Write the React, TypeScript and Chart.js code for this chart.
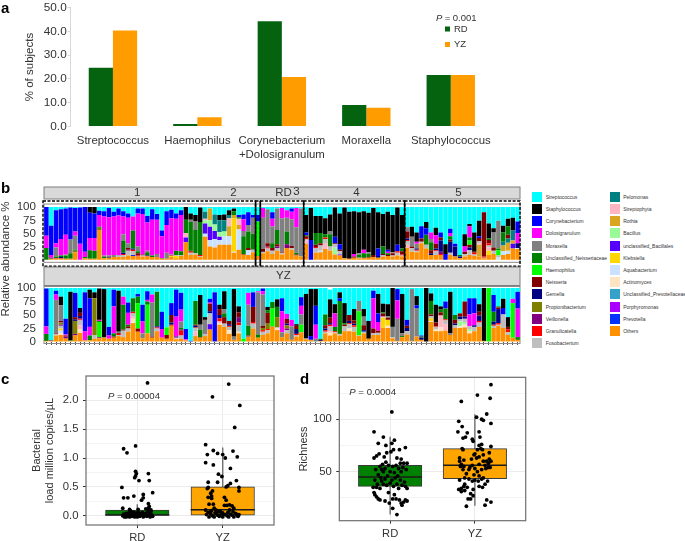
import React, { useEffect, useRef } from "react";
import { Chart, registerables } from "chart.js";
Chart.register(...registerables);

// ---------- panel a ----------
const aCategories = ["Streptococcus", "Haemophilus", ["Corynebacterium", "+Dolosigranulum"], "Moraxella", "Staphylococcus"];
const aRD = [24.7, 1.1, 44.3, 9.0, 21.7];
const aYZ = [40.4, 3.9, 20.8, 7.9, 21.7];
const aTicks = [0, 10, 20, 30, 40, 50];

// ---------- panel b ----------
const genera = ["Streptococcus","Staphylococcus","Corynebacterium","Dolosigranulum","Moraxella","Unclassified_Neisseriaceae","Haemophilus","Neisseria","Gemella","Propionibacterium","Veillonella","Granulicatella","Fusobacterium","Pelomonas","Streptophyta","Rothia","Bacillus","unclassified_Bacillales","Klebsiella","Aquabacterium","Actinomyces","Unclassified_Prevotellaceae","Porphyromonas","Prevotella","Others"];
const generaKeys = ["c","k","b","m","g","n","h","r","v","o","p","e","s","t","i","u","l","d","y","a","f","j","q","w","x"];
const generaColors = ["#00FFFF","#000000","#0000FF","#FF00FF","#808080","#008000","#00FF00","#800000","#000080","#808000","#800080","#FF0000","#BEBEBE","#008080","#FFB6C1","#DAA520","#98FB98","#5500FF","#FFD700","#CAE1FF","#FFE4C4","#36A2C9","#AA00FF","#0033FF","#FF9000"];

type Row = Record<string, number>;
const rdRows: Row[] = [
{b:54,m:23,n:23},{c:35,b:55,m:5,r:1,v:1,x:3},{c:6,b:62,g:17,m:8,n:3,e:1,x:3},{c:4,b:56,m:31,v:2,e:1,n:3,x:3},{c:3,b:49,m:37,n:6,g:2,x:3},
{c:1,b:60,g:26,n:10,x:3},{c:2,b:44,m:8,o:3,g:26,n:2,x:15},{c:1,b:68,m:31},{b:84,m:10,n:2,x:4},{k:11,b:47,m:23,n:16,x:3},
{k:12,b:46,m:24,n:15,x:3},{c:7,b:8,o:4,n:2,m:22,x:57},{c:8,b:10,m:73,g:3,n:2,x:4},{c:2,b:17,m:72,g:3,v:1,x:5},{c:9,b:9,m:72,g:4,x:6},
{c:3,b:13,m:74,p:1,s:3,x:6},{c:8,b:10,m:33,n:23,g:12,s:4,e:2,v:2,x:6},{c:12,b:8,m:48,g:9,s:9,r:3,p:2,x:9},{c:18,m:26,n:34,s:7,v:2,e:3,w:2,x:8},{c:3,b:9,m:62,n:4,g:9,r:4,e:2,x:7},
{c:3,b:10,m:76,s:2,r:2,x:7},{c:17,b:12,m:53,n:6,g:3,v:1,e:1,x:7},{c:4,b:20,m:66,n:2,g:2,x:6},{c:13,b:11,m:64,g:6,x:6},{c:44,b:11,m:41,n:1,x:3},
{c:8,b:26,m:52,g:11,x:3},{c:6,b:16,m:68,g:2,y:2,e:1,x:6},{c:12,b:10,m:60,n:8,y:4,s:2,x:4},{c:6,b:9,m:68,n:7,s:2,x:8},{k:24,n:25,i:8,d:9,x:34},
{c:12,k:12,g:4,n:54,r:2,s:4,e:2,x:10},{c:15,k:12,g:16,n:44,s:2,x:11},{c:1,k:27,n:62,e:2,s:2,x:6},{c:9,t:13,i:3,l:6,d:19,a:6,x:44},{c:3,u:22,l:12,d:25,a:12,x:26},
{c:14,t:19,l:12,d:15,a:16,x:24},{c:15,k:10,t:22,l:9,d:6,a:9,x:29},{c:14,k:11,t:21,l:9,a:16,x:29},{c:6,k:9,u:19,t:6,i:15,a:16,x:29},{c:3,n:7,u:6,k:5,y:63,a:2,x:14},
{c:15,u:8,b:4,i:12,a:38,n:3,x:20},{c:14,b:9,m:22,g:10,n:34,e:1,x:10},{c:10,b:24,n:31,g:12,r:4,a:9,x:10},{c:15,g:30,n:30,b:5,s:5,x:15},{c:15,b:12,h:65,x:8},
{c:2,m:18,g:59,r:5,v:1,s:2,x:13},{c:4,g:64,r:6,e:2,s:5,p:2,x:17},{c:10,b:12,m:14,g:32,r:5,s:6,n:9,x:12},{c:3,g:40,n:27,r:4,s:5,p:3,x:18},{c:2,m:19,g:63,r:2,s:3,x:11},
{c:6,m:14,g:26,n:24,p:7,x:23},{c:3,b:6,m:14,g:50,r:4,s:3,x:20},{c:2,m:36,g:48,n:3,r:2,x:9},{c:3,g:90,x:7},{c:15,k:33,b:5,n:2,r:3,i:6,s:3,e:2,x:31},
{c:2,k:60,b:37,x:1},{c:17,k:32,n:22,s:9,r:4,e:2,x:14},{c:17,k:32,n:19,s:10,r:4,a:3,x:15},{c:21,k:30,n:6,i:10,e:3,s:9,x:21},{c:14,k:32,n:23,g:5,s:8,x:18},
{c:1,k:55,b:12,r:2,l:13,s:6,x:11},{c:12,k:58,b:10,d:2,r:3,s:6,x:9},{c:1,k:95,x:4},{c:9,k:88,x:3},{c:8,k:80,m:5,r:2,x:5},
{c:10,k:77,n:6,i:1,g:2,x:4},{c:14,k:72,m:7,n:8,r:1,x:4},{c:11,k:74,n:6,g:3,r:1,x:5},{c:2,k:88,r:4,x:6},{c:10,k:68,b:14,v:3,x:5},
{c:13,k:61,n:14,s:3,r:2,x:7},{c:9,k:71,b:4,n:3,m:3,r:2,x:8},{c:15,k:70,r:4,s:2,g:2,x:7},{c:1,k:70,b:12,s:5,e:3,x:9},{c:15,k:63,n:5,r:6,e:2,s:2,x:7},
{c:38,r:13,v:3,s:7,g:8,i:6,e:2,x:23},{c:37,k:19,g:18,s:7,r:3,x:16},{c:48,k:17,m:4,g:9,s:3,v:2,e:2,x:15},{c:39,b:23,r:6,s:3,x:32},{c:28,b:12,k:12,n:19,s:7,x:22},
{c:48,m:12,n:15,r:6,g:6,v:3,x:10},{c:39,k:14,m:16,r:9,s:7,v:3,e:2,x:10},{c:48,b:9,v:21,r:6,e:2,p:4,x:10},{c:70,b:12,k:18},{c:41,b:8,m:6,v:21,r:4,n:6,s:4,x:10},
{c:70,b:5,v:19,x:7},{c:90,n:3,v:3,x:4},{c:51,m:11,k:22,r:4,s:5,x:7},{c:32,m:21,k:4,r:5,s:9,h:8,v:5,n:6,x:10},{c:48,k:36,s:3,r:2,e:3,x:8},
{c:26,k:29,s:4,r:6,b:3,u:22,i:3,x:7},{c:10,r:83,e:2,s:1,x:4},{c:31,k:28,r:6,e:4,y:8,s:4,i:6,n:3,x:10},{c:40,k:8,g:28,r:6,s:6,x:12},{c:26,g:52,s:3,n:3,a:6,h:10},
{c:37,k:13,n:17,t:7,u:11,a:7,x:10},{c:22,k:14,n:16,t:8,r:7,u:15,a:6,x:12},{c:20,k:24,t:19,d:9,u:6,x:22},{c:28,b:22,m:19,v:9,a:2,x:21}
];
const yzRows: Row[] = [
{c:2,b:70,m:14,n:13,x:2},{c:97,r:1,x:2},{c:6,b:7,m:10,g:62,r:1,s:2,e:1,x:12},{c:16,k:16,s:5,g:29,r:3,p:2,o:4,y:4,a:5,f:3,x:13},{c:57,b:29,r:2,p:3,e:1,m:2,x:6},
{c:7,k:90,n:1,x:2},{c:9,b:45,v:3,r:4,o:24,e:1,p:2,x:12},{c:37,k:9,r:6,s:9,i:7,v:4,e:2,p:2,f:7,x:17},{c:8,b:72,m:17,x:3},{c:3,k:16,b:53,m:16,n:9,x:3},
{c:8,k:11,s:7,o:68,x:6},{c:1,k:58,p:1,m:2,h:28,n:2,r:1,x:7},{c:2,k:89,n:1,x:8},{c:72,b:16,m:6,x:6},{c:3,b:31,m:50,n:6,r:2,x:8},
{c:5,k:76,g:2,r:2,s:2,e:2,x:11},{c:16,m:15,n:46,s:12,r:2,x:9},{c:27,b:19,m:22,r:4,s:6,n:3,x:19},{c:19,n:25,s:6,e:3,f:8,i:4,x:35},{c:11,b:5,h:47,n:12,r:6,x:19},
{c:31,b:31,m:22,g:9,x:7},{c:6,b:16,m:3,h:53,n:6,x:16},{c:12,m:15,g:63,r:2,x:8},{c:7,n:64,v:2,s:5,e:2,x:20},{c:44,b:32,m:16,x:8},
{c:73,h:14,r:7,x:6},{c:28,b:22,v:4,r:14,e:2,x:30},{c:3,b:50,m:37,i:3,v:2,x:5},{c:9,b:31,n:3,m:22,r:2,e:9,s:6,x:6,g:12},{c:76,b:19,m:2,x:3},
{c:98,b:1,x:1},{c:24,n:44,s:6,r:2,e:1,i:9,v:3,x:11},{c:13,k:55,n:14,g:9,r:1,x:8},{c:54,k:5,g:25,p:1,s:4,x:11},{c:20,b:7,r:14,m:2,v:4,s:20,d:10,x:23},
{c:8,b:91,x:1},{c:31,k:8,r:11,v:6,e:6,i:4,f:2,x:32},{c:6,k:33,n:7,r:12,g:8,s:6,x:28},{c:61,r:6,v:3,s:6,e:2,f:7,x:15},{c:2,k:88,g:6,x:4},
{c:34,k:11,r:9,e:5,p:10,s:12,f:3,x:16},{c:94,h:6},{c:9,m:22,g:39,n:18,v:1,r:1,x:10},{c:8,b:27,r:28,s:9,e:3,x:25},{c:6,g:78,n:6,m:2,x:8},
{c:1,b:5,m:6,g:58,r:4,s:6,o:4,e:3,x:13},{c:35,k:6,r:20,n:5,o:10,s:6,e:2,x:16},{c:26,n:12,h:33,o:1,x:28},{c:21,k:14,n:19,o:19,f:3,s:2,x:22},{c:19,b:24,m:39,g:9,x:9},
{c:48,r:9,v:3,o:6,m:9,s:6,p:3,x:16},{c:59,m:12,g:25,x:4},{c:67,k:3,v:9,r:6,s:3,e:2,x:10},{c:17,b:16,m:16,g:19,h:14,x:18},{c:11,k:82,g:2,x:5},
{c:2,k:87,b:7,x:4},{c:2,k:31,b:35,m:26,g:6},{c:94,n:2,v:2,x:2},{c:49,n:20,r:6,e:3,s:3,v:3,x:16},{c:18,k:34,r:10,s:9,e:3,v:3,f:5,i:3,x:12},
{c:30,k:17,m:25,n:8,s:2,e:2,x:16},{c:8,k:11,b:5,n:61,s:3,x:12},{c:28,k:37,n:3,s:9,r:3,x:20},{c:50,r:11,v:4,s:8,f:5,e:2,x:20},{c:39,k:21,r:6,s:9,e:3,v:3,x:19},
{c:24,h:45,g:19,s:1,x:11},{c:39,k:14,r:9,v:3,g:16,s:3,x:16},{c:61,k:33,x:6},{c:5,b:14,m:56,r:9,s:3,x:13},{c:11,k:36,b:16,m:16,r:4,s:4,x:13},
{c:34,k:16,n:2,r:6,y:19,i:2,x:26},{c:31,k:22,g:3,y:11,r:4,f:4,x:26},{c:2,k:74,g:19,s:2,x:7},{c:2,b:21,m:34,g:41,x:2},{c:11,k:73,n:2,g:5,x:9},
{c:59,v:6,r:4,s:6,b:11,x:14},{c:2,g:96,x:2},{c:15,k:17,g:53,b:5,x:10},{c:88,v:4,n:2,b:2,x:4},{k:100},
{c:11,k:14,n:25,r:3,f:2,s:4,y:5,x:37},{c:31,k:33,r:7,s:5,f:3,e:1,x:20},{c:34,k:6,n:5,r:6,i:22,f:7,x:20},{c:25,b:13,n:20,s:7,i:12,e:2,x:21},{c:7,k:77,g:3,x:13},
{c:50,n:9,r:7,v:3,s:5,x:26},{c:47,r:6,v:5,s:4,l:9,f:3,x:26},{c:25,r:28,v:4,s:6,l:5,f:5,x:27},{c:19,b:30,m:22,s:6,l:3,f:4,x:16},{c:19,b:28,m:22,s:8,v:3,x:20},
{c:30,k:14,r:7,v:10,s:8,e:3,x:28},{k:98,x:2},{h:100},{c:13,b:31,n:18,e:2,v:6,s:4,x:26},{c:34,v:26,r:3,n:2,s:2,e:3,x:30},
{c:20,k:17,b:12,s:25,x:26},{c:54,k:18,r:5,s:5,e:5,x:13},{c:20,h:64,m:8,x:8},{c:7,b:31,m:53,n:5,x:4},
];
const rdBoxBounds = [0, 44, 45, 54, 75, 99];
const stripLabelsRD = [["1", 19.4], ["2", 39.4], ["RD", 49.8], ["3", 52.5], ["4", 65], ["5", 86.2]];
const stripLabelsYZ = [["YZ", 49.8]];
const abundanceTicks = [0, 25, 50, 75, 100];

// ---------- panel c ----------
const cRDPoints = [[1.12,2.3],[.84,1.16],[.88,1.09],[.98,1.21],[.98,.77],[.99,.73],[1.13,.73],[.98,.69],[.97,.66],[1.02,.61],[1.14,.61],[.82,.49],[1.18,.4],[1.07,.37],[.96,.34],[1.07,.31],[.84,.31],[.89,.31],[1.05,.27],[1.13,.21],[1.14,.16],[.83,.13],[.91,.11],[1.01,.11],[1.1,.12],[1.13,.13],[1.16,.08],[.92,.09],[.84,.03],[.85,-.02],[.86,.01],[.87,.04],[.88,-.01],[.89,.02],[.9,.05],[.91,-.02],[.92,.01],[.93,.03],[.94,-.01],[.95,.06],[.96,.02],[.97,-.02],[.98,.04],[.99,.01],[1.0,-.02],[1.01,.03],[1.02,.05],[1.03,-.01],[1.04,.02],[1.05,.01],[1.06,.06],[1.07,-.02],[1.08,.03],[1.09,.01],[1.1,.04],[1.11,-.01],[1.12,.05],[1.13,.02],[1.14,.06],[1.15,-.02],[1.16,.03],[1.17,.01],[1.18,-.01],[.83,.0],[.87,-.02],[.9,.0],[.94,.04],[.97,.0],[1.0,.05],[1.03,.02],[1.07,.01],[1.11,.03],[1.14,.0],[1.16,.1],[1.13,.08],[.96,.06],[.92,.06]];
const cYZPoints = [[2.07,2.28],[1.88,2.06],[2.2,1.91],[2.14,1.53],[1.8,1.23],[1.89,1.13],[1.82,1.06],[1.94,1.08],[2.0,1.06],[2.12,1.12],[2.17,1.02],[2.03,1.0],[1.8,.92],[1.89,.88],[2.09,.82],[1.95,.72],[1.99,.68],[2.16,.61],[1.83,.58],[1.94,.58],[2.09,.56],[2.06,.52],[2.04,.5],[2.19,.49],[2.19,.43],[1.83,.49],[1.82,.47],[1.88,.43],[1.86,.39],[1.87,.34],[1.83,.32],[1.87,.3],[2.02,.32],[2.04,.27],[1.84,.2],[1.89,.2],[2.02,.18],[2.05,.18],[2.08,.19],[2.11,.17],[2.13,.13],[1.8,.1],[1.9,.13],[1.92,.1],[1.86,.07],[1.95,.07],[2.08,.1],[2.0,.05],[1.81,.02],[1.84,-.02],[1.86,.03],[1.88,.0],[1.9,-.02],[1.92,.04],[1.94,.01],[1.96,-.01],[1.98,.03],[2.0,-.02],[2.03,.02],[2.05,.0],[2.07,-.02],[2.09,.03],[2.11,.01],[2.13,-.02],[2.15,.04],[2.17,.0],[2.19,.02],[1.83,.06],[1.87,.09],[1.91,.05],[1.97,.08],[2.01,.02],[2.06,.06],[2.12,.07],[2.16,.03],[2.18,-.01]];
const cBox = [[0, 0.098], [0, 0.5]];
const cMedian = [0.012, 0.105];
const cWhiskers = [[0, 0.2], [0, 1.18]];
const loadTicks = [0, 0.25, 0.5, 0.75, 1, 1.25, 1.5, 1.75, 2, 2.25];
const loadLabelled = [0, 0.5, 1, 1.5, 2];

// ---------- panel d ----------
const dRDPoints = [[1.02,107],[.81,88],[.92,83],[1.05,80],[.86,77],[1.02,77],[.95,75],[1.18,73],[1.11,71],[1.04,71],[.87,67],[.96,68],[1.01,69],[.84,65],[.81,63],[.93,64],[1.08,63],[1.13,62],[1.16,58],[1.2,58],[1.12,58],[.95,59],[.91,57],[.88,55],[.83,52],[.9,52],[.94,53],[.98,56],[1.03,55],[1.07,56],[1.1,53],[1.15,54],[1.19,52],[1.0,50],[.92,50],[1.05,49],[1.13,50],[.86,47],[.97,46],[1.09,46],[.89,44],[.9,41],[.94,43],[1.02,42],[1.06,44],[1.12,42],[1.17,40],[.82,42],[.85,38],[.92,38],[.96,37],[1.0,39],[1.04,36],[1.08,38],[1.14,37],[1.18,36],[1.2,34],[.8,35],[.84,35],[.88,34],[1.1,34],[.98,30],[1.05,28],[.81,30],[.82,28],[.84,26],[.86,24],[.88,23],[.94,22],[.99,20],[1.03,24],[1.07,24],[1.11,23],[1.13,20],[1.16,21],[1.18,23],[1.2,22],[1.14,18],[1.03,15],[1.08,9]];
const dYZPoints = [[2.19,133],[2.03,123],[2.18,120],[1.84,117],[2.14,105],[2.02,102],[2.08,100],[2.1,99],[1.81,98],[1.85,93],[2.19,96],[1.8,88],[2.05,88],[1.91,87],[2.06,83],[1.86,82],[1.89,83],[1.97,81],[1.98,79],[2.05,75],[2.08,76],[2.19,74],[1.85,72],[2.07,72],[2.03,71],[2.09,71],[1.86,71],[2.17,68],[2.0,67],[1.99,66],[2.05,64],[2.1,66],[1.82,63],[1.87,61],[1.96,62],[2.02,63],[2.17,62],[1.82,60],[2.1,60],[2.14,60],[2.19,60],[2.16,58],[1.84,57],[1.83,55],[1.87,55],[1.94,54],[1.97,56],[2.0,53],[2.05,57],[2.12,56],[2.16,54],[1.86,52],[1.93,52],[2.03,50],[2.08,52],[2.13,53],[2.18,54],[1.9,48],[1.99,47],[2.05,46],[1.82,42],[1.88,44],[1.93,43],[1.97,41],[2.0,42],[2.04,41],[2.08,43],[2.1,44],[2.15,41],[1.88,38],[1.84,34],[1.87,36],[1.91,35],[1.98,33],[2.05,36],[2.09,35],[2.12,38],[1.81,33],[1.84,31],[1.88,32],[1.95,29],[1.92,24],[1.95,24],[1.98,27],[1.9,17],[2.12,18],[2.14,23],[2.19,21]];
const dBox = [[36, 56], [43.3, 72]];
const dMedian = [45, 56];
const dWhiskers = [[9, 83.4], [17.5, 104.7]];
const richTicks = [25, 50, 75, 100, 125];
const richLabelled = [50, 100];

const groups = ["RD", "YZ"];
const groupFills = ["#008000", "#FFA500"];
const boxHalfWidth = 0.375;

const FONT = '"Liberation Sans", Arial, sans-serif';
const TEXT = "#333333";

// fix the plot rectangle of a chart inside its canvas
function frame(yW: number, xH: number) {
  return {
    y: (s: any) => { s.width = yW; s.paddingTop = 0; s.paddingBottom = 0; s.paddingLeft = 0; s.paddingRight = 0; },
    x: (s: any) => { s.height = xH; s.paddingLeft = 0; s.paddingRight = 0; s.paddingTop = 0; s.paddingBottom = 0; },
  };
}

function aConfig() {
  const f = frame(30, 45.5);
  return {
    type: "bar",
    data: {
      labels: aCategories,
      datasets: [
        { label: "RD", data: aRD, backgroundColor: "#05630F" },
        { label: "YZ", data: aYZ, backgroundColor: "#FF9D00" },
      ],
    },
    options: {
      responsive: false, animation: false,
      layout: { padding: { left: 40.7, top: 7.7, right: 7, bottom: 0 } },
      plugins: { legend: { display: false }, tooltip: { enabled: false } },
      datasets: { bar: { categoryPercentage: 0.573, barPercentage: 1 } },
      scales: {
        x: {
          afterFit: f.x, grid: { display: false, drawTicks: false }, border: { display: false },
          ticks: { color: TEXT, font: { family: FONT, size: 11.4 }, maxRotation: 0, autoSkip: false, padding: 8 },
        },
        y: {
          min: 0, max: 50, afterFit: f.y,
          afterBuildTicks: (s: any) => { s.ticks = aTicks.map((value) => ({ value })); },
          grid: { drawOnChartArea: false, color: "#D8D8D8", tickLength: 3 },
          border: { color: "#D8D8D8" },
          ticks: { color: TEXT, font: { family: FONT, size: 11.8 }, padding: 1, callback: (v: number) => v.toFixed(1) },
        },
      },
    },
    plugins: [{
      id: "aLegend",
      afterDraw(c: any) {
        const g = c.ctx; g.save();
        g.textBaseline = "middle"; g.fillStyle = TEXT;
        g.font = `italic 9.5px ${FONT}`; g.fillText("P", 436, 18);
        g.font = `9.5px ${FONT}`; g.fillText(" = 0.001", 442, 18);
        [["RD", "#05630F", 29], ["YZ", "#FF9D00", 44.5]].forEach(([t, col, y]: any) => {
          g.fillStyle = col; g.fillRect(445, y - 2.5, 5, 5);
          g.fillStyle = TEXT; g.fillText(t, 454, y);
        });
        g.restore();
      },
    }],
  };
}

function bConfig(rows: Row[], showTicks: boolean, strip: any[], boxes: boolean) {
  const f = frame(26, showTicks ? 8 : 9.7);
  const n = rows.length;
  return {
    type: "bar",
    data: {
      labels: rows.map((_, i) => String(i + 1)),
      // stacked from the bottom up: Others first, Streptococcus last
      datasets: generaKeys.map((k, i) => ({
        label: genera[i],
        data: rows.map((r) => r[k] || 0),
        backgroundColor: generaColors[i],
      })).reverse(),
    },
    options: {
      responsive: false, animation: false,
      layout: { padding: { left: 18, top: boxes ? 27 : 22, right: 5, bottom: 0 } },
      plugins: { legend: { display: false }, tooltip: { enabled: false } },
      datasets: { bar: { categoryPercentage: 1, barPercentage: 0.93 } },
      scales: {
        x: {
          stacked: true, afterFit: f.x, border: { display: false },
          grid: { drawOnChartArea: false, display: showTicks, tickLength: 3, color: "#555", offset: false },
          ticks: { display: false, autoSkip: false },
        },
        y: {
          stacked: true, min: 0, max: 100, afterFit: f.y,
          afterBuildTicks: (s: any) => { s.ticks = abundanceTicks.map((value) => ({ value })); },
          grid: { drawOnChartArea: false, tickLength: 0 }, border: { display: false },
          ticks: { color: TEXT, font: { family: FONT, size: 11.6 }, padding: 8, autoSkip: false },
        },
      },
    },
    plugins: [{
      id: "facet",
      beforeDatasetsDraw(c: any) {
        const { left, right, top, bottom } = c.chartArea;
        const g = c.ctx; g.save();
        const stripTop = top - (boxes ? 20 : 21), stripBottom = top - (boxes ? 8 : 2.5);
        g.fillStyle = "#D9D9D9"; g.fillRect(left, stripTop, right - left, stripBottom - stripTop);
        g.strokeStyle = "#7F7F7F"; g.lineWidth = 1;
        g.strokeRect(left, stripTop, right - left, stripBottom - stripTop);
        g.strokeStyle = "#8A8A8A";
        g.strokeRect(left, top - (boxes ? 3 : 1.5), right - left, bottom - top + (boxes ? 5 : 3));
        g.fillStyle = TEXT; g.font = `11.5px ${FONT}`; g.textAlign = "center"; g.textBaseline = "middle";
        const w = (right - left) / n;
        strip.forEach(([t, pos]) => g.fillText(t, left + pos * w, (stripTop + stripBottom) / 2 + (t === "3" ? -1 : 0)));
        g.restore();
      },
      afterDraw(c: any) {
        if (!boxes) return;
        const { left, right, top, bottom } = c.chartArea;
        const g = c.ctx; g.save();
        const w = (right - left) / n;
        g.strokeStyle = "#000"; g.lineWidth = 1.4; g.setLineDash([3, 1.5]);
        for (let i = 0; i + 1 < rdBoxBounds.length; i++) {
          const x0 = left + rdBoxBounds[i] * w, x1 = left + rdBoxBounds[i + 1] * w;
          g.strokeRect(x0 - (i === 0 ? 1 : 0), top - 6, x1 - x0 + (i === 0 ? 1 : 0), bottom - top + 12);
        }
        g.setLineDash([]); g.lineWidth = 1.4;
        [44, 45, 54, 75].forEach((b) => {
          g.beginPath(); g.moveTo(left + b * w, top - 6); g.lineTo(left + b * w, bottom + 6); g.stroke();
        });
        g.restore();
      },
    }],
  };
}

function boxConfig(opts: any) {
  const { rd, yz, box, median, whiskers, ticks, labelled, fmt, yMin, yMax, title, pText, pX, pY, yW, xH, pad } = opts;
  const f = frame(yW, xH);
  const whiskerSets = whiskers.map((w: number[], i: number) => ({
    type: "line", order: 5, data: [{ x: i + 1, y: w[0] }, { x: i + 1, y: w[1] }],
    borderColor: "#6E6E6E", borderWidth: 1.4, pointRadius: 0,
  }));
  const medianSets = median.map((m: number, i: number) => ({
    type: "line", order: 2,
    data: [{ x: i + 1 - boxHalfWidth, y: m }, { x: i + 1 + boxHalfWidth, y: m }],
    borderColor: "#1A1A1A", borderWidth: 1.5, pointRadius: 0,
  }));
  const toPoints = (list: number[][]) => list.map(([x, y]) => ({ x, y }));
  return {
    type: "bar",
    data: {
      datasets: [
        ...whiskerSets,
        {
          type: "bar", order: 3, barThickness: 63.5,
          data: box.map((b: number[], i: number) => ({ x: i + 1, y: b })),
          backgroundColor: groupFills, borderColor: "#3A3A3A", borderWidth: 1, borderSkipped: false,
        },
        ...medianSets,
        { type: "scatter", order: 1, data: toPoints(rd), backgroundColor: "#000", pointRadius: 1.9, borderWidth: 0 },
        { type: "scatter", order: 1, data: toPoints(yz), backgroundColor: "#000", pointRadius: 1.9, borderWidth: 0 },
      ],
    },
    options: {
      responsive: false, animation: false,
      layout: { padding: pad },
      plugins: { legend: { display: false }, tooltip: { enabled: false } },
      scales: {
        x: {
          type: "linear", min: 0.4, max: 2.6, offset: false, afterFit: f.x,
          afterBuildTicks: (s: any) => { s.ticks = [1, 2].map((value) => ({ value })); },
          grid: { color: "#EBEBEB", tickLength: 3, tickColor: "#333", offset: false }, border: { display: false },
          ticks: { color: TEXT, font: { family: FONT, size: 11.2 }, padding: 3, callback: (v: number) => groups[v - 1] },
        },
        y: {
          min: yMin, max: yMax, afterFit: f.y,
          afterBuildTicks: (s: any) => { s.ticks = ticks.map((value: number) => ({ value })); },
          grid: {
            tickLength: 3,
            color: (x: any) => (labelled.includes(x.tick.value) ? "#EBEBEB" : "#F4F4F4"),
            tickColor: (x: any) => (labelled.includes(x.tick.value) ? "#333" : "rgba(0,0,0,0)"),
          },
          border: { display: false },
          title: { display: true, text: title, color: TEXT, font: { family: FONT, size: 11 }, padding: { top: 0, bottom: 2 }, },
          ticks: { color: TEXT, font: { family: FONT, size: 11.3 }, padding: 4.5, autoSkip: false, callback: (v: number) => (labelled.includes(v) ? fmt(v) : "") },
        },
      },
    },
    plugins: [{
      id: "frameAndP",
      afterDraw(c: any) {
        const { left, right, top, bottom } = c.chartArea;
        const g = c.ctx; g.save();
        g.strokeStyle = "#6E6E6E"; g.lineWidth = 1.2; g.strokeRect(left, top, right - left, bottom - top);
        g.fillStyle = TEXT; g.textBaseline = "middle";
        g.font = `italic 9.6px ${FONT}`; g.fillText("P", left + pX, pY);
        g.font = `9.6px ${FONT}`; g.fillText(pText, left + pX + 6.4, pY);
        g.restore();
      },
    }],
  };
}

const legendCol1 = genera.slice(0, 13);
const legendCol2 = genera.slice(13);

function Panel({ config, left, top, width, height }: any) {
  const ref = useRef<HTMLCanvasElement>(null);
  useEffect(() => {
    const chart = new Chart(ref.current as any, config());
    return () => chart.destroy();
  }, []);
  return <canvas ref={ref} width={width} height={height} style={{ position: "absolute", left, top, width, height }} />;
}

function Letter({ t, x, y }: any) {
  return <div style={{ position: "absolute", left: x, top: y, font: `bold 15px ${FONT}`, color: "#000", lineHeight: "15px" }}>{t}</div>;
}

function LegendItem({ name, x, y }: any) {
  const color = generaColors[genera.indexOf(name)];
  return (
    <>
      <div style={{ position: "absolute", left: x, top: y - 5, width: 10, height: 10, background: color }} />
      <div style={{ position: "absolute", left: x + 13.7, top: y - 4, font: `5px ${FONT}`, lineHeight: "8px", color: "#333", whiteSpace: "nowrap" }}>{name}</div>
    </>
  );
}

export default function App() {
  return (
    <div style={{ position: "absolute", left: 0, top: 0, width: 685, height: 541, overflow: "hidden", background: "#fff" }}>
      <Panel left={0} top={0} width={500} height={172} config={aConfig} />
      <Panel left={0} top={180} width={525} height={90} config={() => bConfig(rdRows, false, stripLabelsRD, true)} />
      <Panel left={0} top={266} width={525} height={84} config={() => bConfig(yzRows, true, stripLabelsYZ, false)} />
      <Panel left={0} top={370} width={285} height={171} config={() => boxConfig({
        rd: cRDPoints, yz: cYZPoints, box: cBox, median: cMedian, whiskers: cWhiskers,
        ticks: loadTicks, labelled: loadLabelled, fmt: (v: number) => v.toFixed(1),
        yMin: -0.16, yMax: 2.42, title: ["Bacterial", "load million copies/\u00B5L"],
        pText: " = 0.00004", pX: 22, pY: 26, yW: 56, xH: 16, pad: { left: 30, top: 6, right: 11, bottom: 0 },
      })} />
      <Panel left={297} top={370} width={238} height={171} config={() => boxConfig({
        rd: dRDPoints, yz: dYZPoints, box: dBox, median: dMedian, whiskers: dWhiskers,
        ticks: richTicks, labelled: richLabelled, fmt: (v: number) => String(v),
        yMin: 3.2, yMax: 140, title: "Richness",
        pText: " = 0.0004", pX: 10, pY: 22.5, yW: 42.3, xH: 20.3, pad: { left: 0, top: 7.3, right: 9.3, bottom: 0 },
      })} />
      <div style={{ position: "absolute", left: 5, top: 259, transform: "translate(-50%,-50%) rotate(-90deg)", font: `11.5px ${FONT}`, color: TEXT, whiteSpace: "nowrap" }}>Relative abundance %</div>
      <div style={{ position: "absolute", left: 29, top: 67, transform: "translate(-50%,-50%) rotate(-90deg)", font: `11.5px ${FONT}`, color: TEXT, whiteSpace: "nowrap" }}>% of subjects</div>
      <Letter t="a" x={1} y={0} />
      <Letter t="b" x={1} y={180} />
      <Letter t="c" x={1} y={371} />
      <Letter t="d" x={300} y={371} />
      {legendCol1.map((name, i) => <LegendItem key={name} name={name} x={532} y={196.7 + i * 12.22} />)}
      {legendCol2.map((name, i) => <LegendItem key={name} name={name} x={609.5} y={196.7 + i * 12.22} />)}
    </div>
  );
}
